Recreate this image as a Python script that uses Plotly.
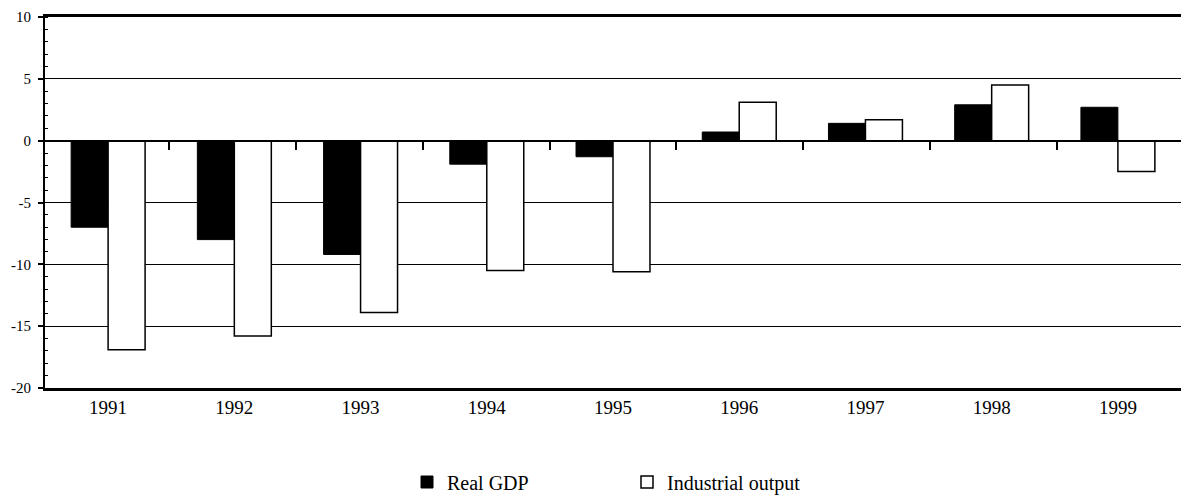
import plotly.graph_objects as go

# 年份与两组数据（年度变化，%）
years = ["1991", "1992", "1993", "1994", "1995", "1996", "1997", "1998", "1999"]
real_gdp = [-7.0, -8.0, -9.2, -1.9, -1.3, 0.7, 1.4, 2.9, 2.7]
industrial_output = [-16.9, -15.8, -13.9, -10.5, -10.6, 3.1, 1.7, 4.5, -2.5]

# y轴刻度（原图用普通连字符作负号）
y_ticks = [10, 5, 0, -5, -10, -15, -20]
y_tick_labels = ["10", "5", "0", "-5", "-10", "-15", "-20"]

SERIF = '"Liberation Serif", "Times New Roman", Times, serif'

fig = go.Figure()

fig.add_trace(go.Bar(
    x=years, y=real_gdp, name="Real GDP",
    marker=dict(color="black", line=dict(color="black", width=1)),
))
fig.add_trace(go.Bar(
    x=years, y=industrial_output, name="Industrial output",
    marker=dict(color="white", line=dict(color="black", width=1.5)),
))

# 零线上的分类边界刻度（放在第二条x轴上）
fig.add_trace(go.Scatter(
    x=years, y=[0] * len(years), xaxis="x2", mode="markers",
    marker=dict(opacity=0), showlegend=False, hoverinfo="skip",
))

fig.update_layout(
    width=1183, height=497,
    margin=dict(l=45, r=2, t=17, b=109),
    plot_bgcolor="white", paper_bgcolor="white",
    barmode="group", bargap=0.414, bargroupgap=0,
    font=dict(family=SERIF, color="black"),
    xaxis=dict(
        type="category", automargin=False,
        showline=True, linecolor="black", linewidth=2.5, mirror=True,
        ticks="", ticklabelstandoff=0,
        tickfont=dict(family=SERIF, size=19, color="black"),
        showgrid=False,
    ),
    xaxis2=dict(
        type="category", overlaying="x", anchor="free", position=2 / 3,
        tickson="boundaries", ticks="outside", ticklen=8, tickwidth=1.5,
        tickcolor="black", showticklabels=False,
        showline=True, linecolor="black", linewidth=2,
        showgrid=False,
    ),
    yaxis=dict(
        range=[-20, 10], automargin=False,
        tickmode="array", tickvals=y_ticks, ticktext=y_tick_labels,
        showline=True, linecolor="black", linewidth=2,
        ticks="outside", ticklen=5, tickcolor="black", tickwidth=1.5,
        ticklabelstandoff=4,
        tickfont=dict(family=SERIF, size=15, color="black"),
        showgrid=True, gridcolor="black", gridwidth=1.2,
        zeroline=False,
        minor=dict(dtick=1, tick0=0, ticks="inside", ticklen=3,
                   tickcolor="black", tickwidth=1, showgrid=False),
    ),
    legend=dict(
        orientation="h", xref="container", yref="container",
        x=407 / 1183, xanchor="left", y=1 - 482 / 497, yanchor="middle",
        font=dict(family=SERIF, size=20, color="black"),
        entrywidth=175, entrywidthmode="pixels",
        itemwidth=30, bgcolor="rgba(0,0,0,0)",
    ),
    showlegend=True,
)

# 去掉页面默认的8px边距，使图表与窗口对齐
fig.write_html("out.html", config={"displayModeBar": False},
               post_script="document.body.style.margin='0';")
